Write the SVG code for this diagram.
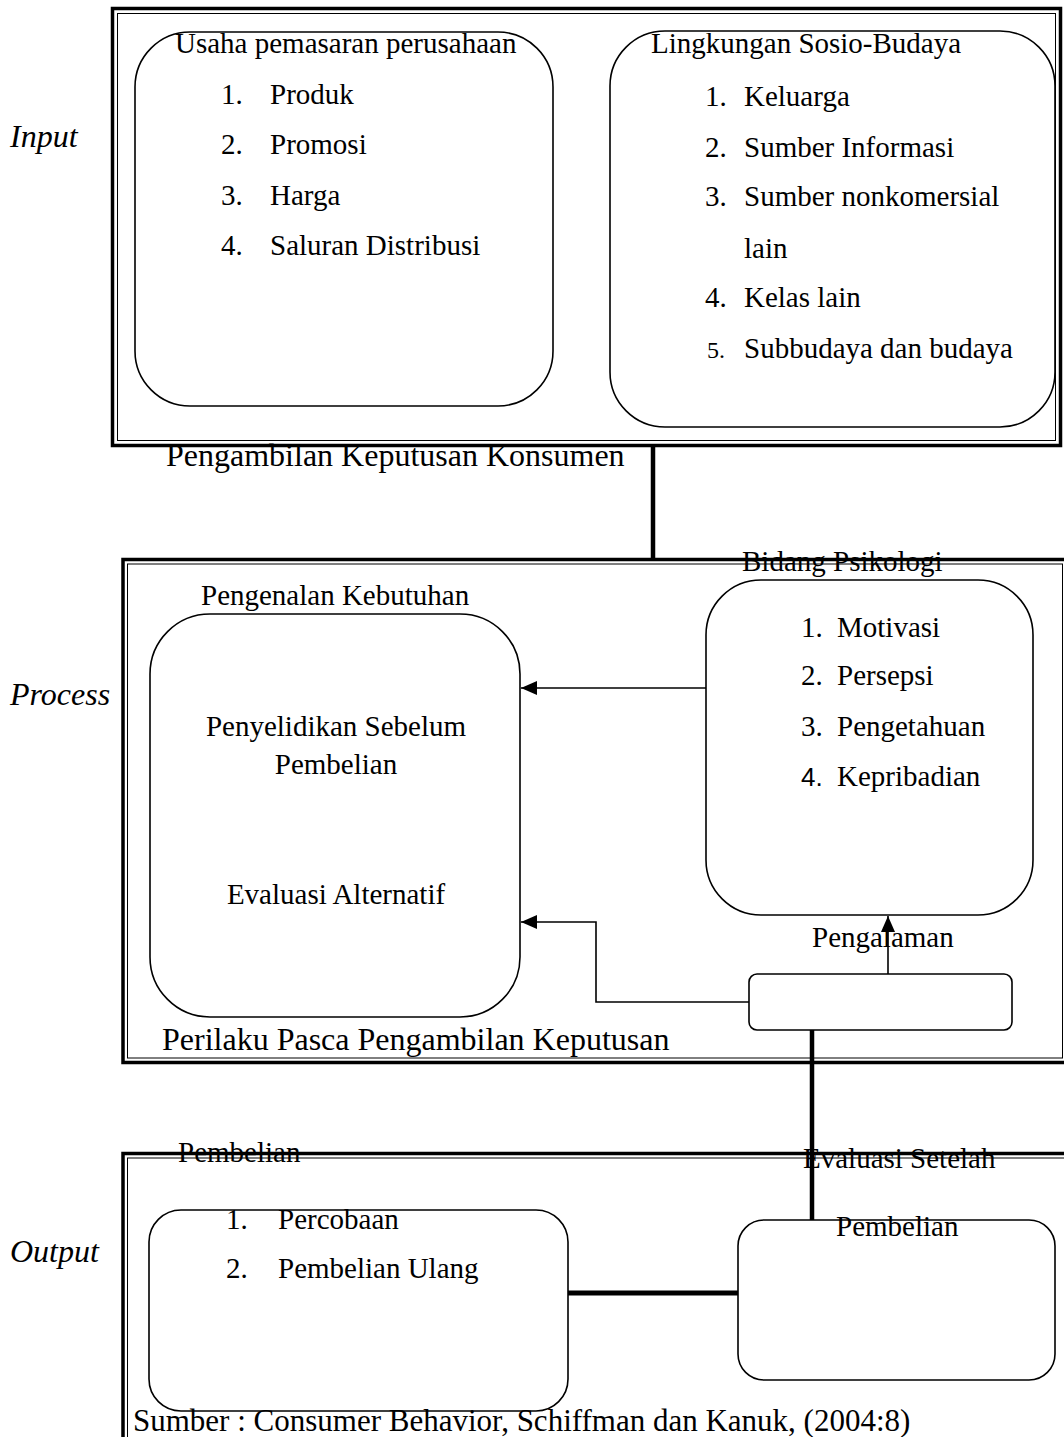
<svg xmlns="http://www.w3.org/2000/svg" width="1064" height="1437" viewBox="0 0 1064 1437">
<defs>
<marker id="ah" markerUnits="userSpaceOnUse" markerWidth="16" markerHeight="14" refX="16" refY="7" orient="auto">
<path d="M0,0 L16,7 L0,14 z" fill="#000"/>
</marker>
<style>
.t{font-family:"Liberation Serif","Times New Roman",serif;font-size:29px;fill:#000}
.big{font-size:32px}
.src{font-size:31px}
.lab{font-family:"Liberation Serif","Times New Roman",serif;font-size:32px;font-style:italic;fill:#000}
.thick{fill:none;stroke:#000;stroke-width:3.5}
.thin{fill:none;stroke:#000;stroke-width:1}
.box{fill:none;stroke:#000;stroke-width:1.6}
.conn{fill:none;stroke:#000;stroke-width:4.5}
.arr{fill:none;stroke:#000;stroke-width:1.6}
</style>
</defs>
<rect width="1064" height="1437" fill="#fff"/>

<g id="frame-input">
<rect class="thick" x="112.5" y="8.5" width="948" height="437"/>
<rect class="thin" x="117.5" y="13.5" width="938" height="427"/>
</g>
<g id="frame-process">
<rect class="thick" x="123" y="559.5" width="945" height="503"/>
<rect class="thin" x="127.5" y="564" width="935" height="494"/>
</g>
<g id="frame-output">
<rect class="thick" x="123" y="1153.5" width="960" height="300"/>
<rect class="thin" x="127.5" y="1158" width="950" height="300"/>
</g>

<g id="labels">
<text class="lab" x="10" y="147">Input</text>
<text class="lab" x="10" y="705">Process</text>
<text class="lab" x="10" y="1262">Output</text>
</g>

<g id="node-usaha">
<rect class="box" x="135" y="32" width="418" height="374" rx="55"/>
<text class="t" x="175" y="53">Usaha pemasaran perusahaan</text>
<text class="t" x="221" y="104">1.</text><text class="t" x="270" y="104">Produk</text>
<text class="t" x="221" y="154">2.</text><text class="t" x="270" y="154">Promosi</text>
<text class="t" x="221" y="205">3.</text><text class="t" x="270" y="205">Harga</text>
<text class="t" x="221" y="255">4.</text><text class="t" x="270" y="255">Saluran Distribusi</text>
</g>

<g id="node-lingkungan">
<rect class="box" x="610" y="31" width="445" height="396" rx="55"/>
<text class="t" x="651" y="53">Lingkungan Sosio-Budaya</text>
<text class="t" x="705" y="106">1.</text><text class="t" x="744" y="106">Keluarga</text>
<text class="t" x="705" y="157">2.</text><text class="t" x="744" y="157">Sumber Informasi</text>
<text class="t" x="705" y="206">3.</text><text class="t" x="744" y="206">Sumber nonkomersial</text>
<text class="t" x="744" y="258">lain</text>
<text class="t" x="705" y="307">4.</text><text class="t" x="744" y="307">Kelas lain</text>
<text class="t" x="707" y="358" style="font-size:24px">5.</text><text class="t" x="744" y="358">Subbudaya dan budaya</text>
</g>

<g id="node-keputusan">
<text class="t big" x="166" y="466">Pengambilan Keputusan Konsumen</text>
</g>

<g id="node-pengenalan">
<rect class="box" x="150" y="614" width="370" height="403" rx="60"/>
<text class="t" x="201" y="605">Pengenalan Kebutuhan</text>
<text class="t" x="336" y="736" text-anchor="middle">Penyelidikan Sebelum</text>
<text class="t" x="336" y="774" text-anchor="middle">Pembelian</text>
<text class="t" x="336" y="904" text-anchor="middle">Evaluasi Alternatif</text>
</g>

<g id="node-psikologi">
<rect class="box" x="706" y="580" width="327" height="335" rx="55"/>
<text class="t" x="742" y="571">Bidang Psikologi</text>
<text class="t" x="801" y="637">1.</text><text class="t" x="837" y="637">Motivasi</text>
<text class="t" x="801" y="685">2.</text><text class="t" x="837" y="685">Persepsi</text>
<text class="t" x="801" y="736">3.</text><text class="t" x="837" y="736">Pengetahuan</text>
<text class="t" x="801" y="786" style="font-family:'Liberation Sans',Arial,sans-serif;font-size:26px">4.</text><text class="t" x="837" y="786">Kepribadian</text>
</g>

<g id="node-pengalaman">
<rect class="box" x="749" y="974" width="263" height="56" rx="8"/>
<text class="t" x="812" y="947">Pengalaman</text>
</g>

<g id="node-perilaku">
<text class="t big" x="162" y="1050">Perilaku Pasca Pengambilan Keputusan</text>
</g>

<g id="node-pembelian">
<rect class="box" x="149" y="1210" width="419" height="201" rx="32"/>
<text class="t" x="178" y="1162">Pembelian</text>
<text class="t" x="226" y="1229">1.</text><text class="t" x="278" y="1229">Percobaan</text>
<text class="t" x="226" y="1278">2.</text><text class="t" x="278" y="1278">Pembelian Ulang</text>
</g>

<g id="node-evaluasi">
<rect class="box" x="738" y="1220" width="317" height="160" rx="26"/>
<text class="t" x="803" y="1168">Evaluasi Setelah</text>
<text class="t" x="836" y="1236">Pembelian</text>
</g>

<g id="connectors">
<line class="conn" x1="653" y1="447" x2="653" y2="559"/>
<line class="conn" x1="812" y1="1030" x2="812" y2="1220"/>
<line class="conn" x1="568" y1="1293" x2="738" y2="1293" style="stroke-width:5"/>
<line class="arr" x1="706" y1="688" x2="521" y2="688" marker-end="url(#ah)"/>
<line class="arr" x1="888" y1="974" x2="888" y2="916" marker-end="url(#ah)"/>
<polyline class="arr" points="749,1002 596,1002 596,922 521,922" marker-end="url(#ah)"/>
</g>

<g id="node-sumber">
<text class="t src" x="133" y="1431">Sumber : Consumer Behavior, Schiffman dan Kanuk, (2004:8)</text>
</g>
</svg>
